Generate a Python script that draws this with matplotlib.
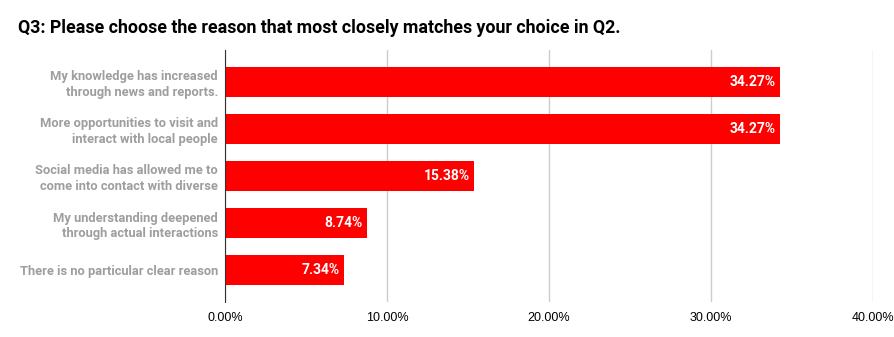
import matplotlib.pyplot as plt

# data
reasons = [
    "My knowledge has increased\nthrough news and reports.",
    "More opportunities to visit and\ninteract with local people",
    "Social media has allowed me to\ncome into contact with diverse",
    "My understanding deepened\nthrough actual interactions",
    "There is no particular clear reason",
]
shares = [34.27, 34.27, 15.38, 8.74, 7.34]
xticks = [0, 10, 20, 30, 40]

plt.rcParams['font.family'] = ['Roboto', 'DejaVu Sans']

fig = plt.figure(figsize=(8.95, 3.37), dpi=100)
ax = fig.add_axes([225 / 895, 1 - 302 / 337, (873 - 225) / 895, (302 - 50) / 337])

ypos = list(range(len(reasons)))
ax.barh(ypos, shares, height=0.64, color='#ff0000', zorder=3)
for y, v in zip(ypos, shares):
    ax.text(v - 0.25, y, f"{v:.2f}%", ha='right', va='center',
            color='white', fontsize=10, fontweight='bold', zorder=4)

ax.set_yticks(ypos)
ax.set_yticklabels(reasons, color='#9e9e9e', fontsize=9.3, fontweight='bold',
                   multialignment='right', linespacing=1.25)
ax.set_ylim(len(reasons) - 1 + 0.68, -0.68)
ax.set_xlim(0, 40)
ax.set_xticks(xticks)
ax.set_xticklabels([f"{t:.2f}%" for t in xticks], fontsize=9,
                   family=['Liberation Sans Narrow', 'Liberation Sans', 'DejaVu Sans'])
ax.tick_params(axis='y', length=0, pad=5)
ax.tick_params(axis='x', length=0, pad=7)
ax.grid(axis='x', color='#cccccc', linewidth=1, zorder=0)
for s in ['top', 'right', 'bottom']:
    ax.spines[s].set_visible(False)
ax.spines['left'].set_color('#333333')
ax.spines['left'].set_zorder(5)

fig.text(18 / 895, 1 - 28 / 337, "Q3: Please choose the reason that most closely matches your choice in Q2.",
         fontsize=12.8, fontweight='bold', va='center', ha='left')

fig.savefig('out.png', dpi=100)
